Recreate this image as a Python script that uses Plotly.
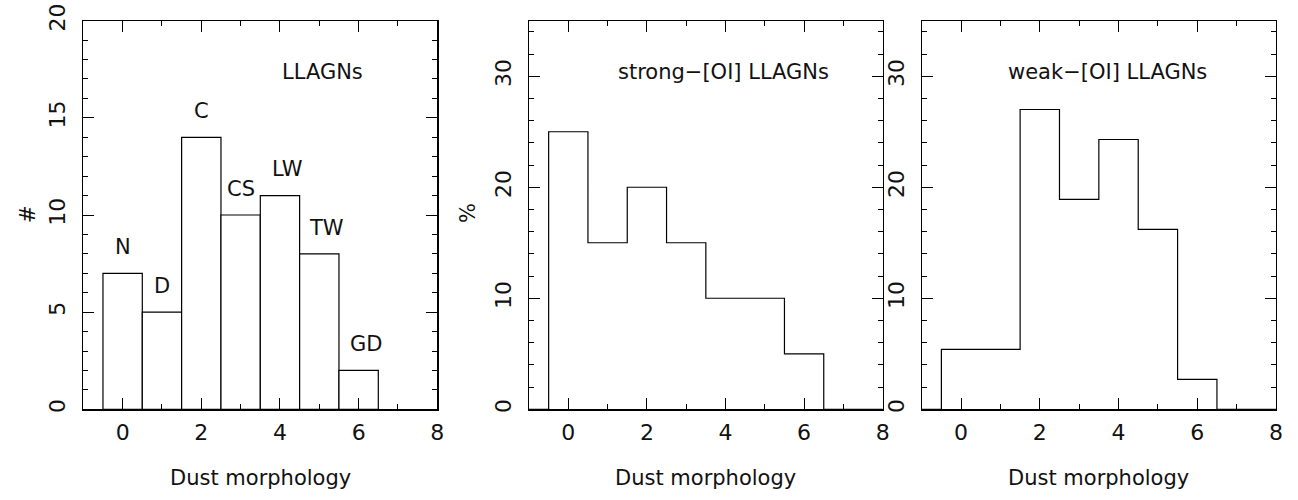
import plotly.graph_objects as go

# ---- data ----
morph_bins = [0, 1, 2, 3, 4, 5, 6]
morph_labels = ["N", "D", "C", "CS", "LW", "TW", "GD"]
counts_all = [7, 5, 14, 10, 11, 8, 2]
pct_strong = [25.0, 15.0, 20.0, 15.0, 10.0, 10.0, 5.0]
pct_weak = [5.4, 5.4, 27.0, 18.9, 24.3, 16.2, 2.7]
panel_titles = ["LLAGNs", "strong\u2212[OI] LLAGNs", "weak\u2212[OI] LLAGNs"]
x_title = "Dust morphology"
y_titles = ["#", "%"]

FONT = "DejaVu Sans"
INK = "#111111"
W, H = 1298, 500

# panel pixel frames (left, right), shared top/bottom
frames = [(83.3, 437.3), (529.0, 882.7), (921.7, 1276.0)]
top_px, bot_px = 20.7, 409.3

fig = go.Figure()

# panel 1: boxed bars
fig.add_trace(go.Bar(x=morph_bins, y=counts_all, width=1,
                     marker=dict(color="white", line=dict(color="black", width=1.2)),
                     xaxis="x", yaxis="y", showlegend=False, hoverinfo="skip"))

def step_xy(vals):
    xs = [-1] + [b - 0.5 for b in morph_bins] + [morph_bins[-1] + 0.5, 8]
    ys = [0] + list(vals) + [0, 0]
    return xs, ys

for vals, xa, ya in [(pct_strong, "x2", "y2"), (pct_weak, "x3", "y3")]:
    xs, ys = step_xy(vals)
    fig.add_trace(go.Scatter(x=xs, y=ys, mode="lines", line=dict(color="black", width=1.2, shape="hv"),
                             xaxis=xa, yaxis=ya, showlegend=False, hoverinfo="skip"))

def xaxis_cfg(i):
    l, r = frames[i]
    return dict(domain=[l / W, r / W], range=[-1, 8], dtick=2, tick0=0, automargin=False,
                ticks="inside", ticklen=11, tickwidth=1, tickcolor="black",
                minor=dict(dtick=1, ticklen=5, ticks="inside", tickcolor="black", tickwidth=1),
                showline=True, linecolor="black", linewidth=1.2, mirror="allticks",
                showgrid=False, zeroline=False, anchor="y" if i == 0 else f"y{i+1}",
                tickfont=dict(family=FONT, size=22, color=INK), ticklabelstandoff=3)

def yaxis_cfg(i, rng, dt, mdt):
    return dict(domain=[1 - bot_px / H, 1 - top_px / H], range=rng, dtick=dt, tick0=0, automargin=False,
                ticks="inside", ticklen=11, tickwidth=1, tickcolor="black",
                minor=dict(dtick=mdt, ticklen=5, ticks="inside", tickcolor="black", tickwidth=1),
                showline=True, linecolor="black", linewidth=1.2, mirror="allticks",
                showgrid=False, zeroline=False, anchor="x" if i == 0 else f"x{i+1}",
                tickangle=-90, tickfont=dict(family=FONT, size=22, color=INK),
                ticklabelstandoff=8)

fig.update_layout(
    template="none",
    width=W, height=H, margin=dict(l=0, r=0, t=0, b=0, pad=0, autoexpand=False),
    paper_bgcolor="white", plot_bgcolor="white", bargap=0, hovermode=False,
    xaxis=xaxis_cfg(0), xaxis2=xaxis_cfg(1), xaxis3=xaxis_cfg(2),
    yaxis=yaxis_cfg(0, [0, 20], 5, 1),
    yaxis2=yaxis_cfg(1, [0, 35], 10, 2),
    yaxis3=yaxis_cfg(2, [0, 35], 10, 2),
)

tf = dict(family=FONT, size=21, color=INK)
ann = []
# bar labels
label_dx = [0, 0, 0, 0, 0.19, 0.19, 0.19]
for b, lab, c, dx in zip(morph_bins, morph_labels, counts_all, label_dx):
    ann.append(dict(x=b + dx, y=c + 1.35, xref="x", yref="y", text=lab, showarrow=False, font=tf,
                    xanchor="center", yanchor="middle"))
# panel titles
ann.append(dict(x=5.07, y=17.36, xref="x", yref="y", text=panel_titles[0], showarrow=False, font=tf,
                xanchor="center", yanchor="middle"))
ann.append(dict(x=3.95, y=30.4, xref="x2", yref="y2", text=panel_titles[1], showarrow=False, font=tf,
                xanchor="center", yanchor="middle"))
ann.append(dict(x=3.73, y=30.4, xref="x3", yref="y3", text=panel_titles[2], showarrow=False, font=tf,
                xanchor="center", yanchor="middle"))
# x titles
for l, r in frames:
    ann.append(dict(x=(l + r) / 2 / W, y=1 - 478 / H, xref="paper", yref="paper", text=x_title,
                    showarrow=False, font=tf, xanchor="center", yanchor="middle"))
# y titles
ann.append(dict(x=28 / W, y=1 - 214 / H, xref="paper", yref="paper", text=y_titles[0], textangle=-90,
                showarrow=False, font=tf, xanchor="center", yanchor="middle"))
ann.append(dict(x=468 / W, y=1 - 213 / H, xref="paper", yref="paper", text=y_titles[1], textangle=-90,
                showarrow=False, font=tf, xanchor="center", yanchor="middle"))
fig.update_layout(annotations=ann)

fig.write_html("out.html", config={"displayModeBar": False, "staticPlot": True},
               post_script="document.body.style.margin='0';document.body.style.overflow='hidden';")
